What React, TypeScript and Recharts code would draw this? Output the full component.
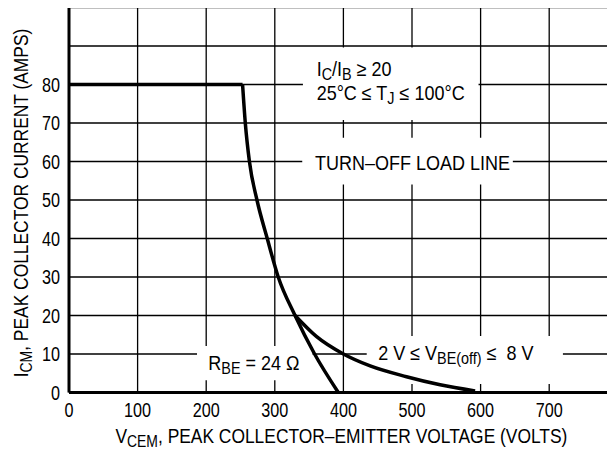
import type { ReactNode } from 'react';
import { LineChart, Line, XAxis, YAxis, CartesianGrid, ReferenceArea } from 'recharts';

// rated current plateau
const flatV = [0, 253];
const flatI = [80, 80];
// R_BE = 24 ohm load line
const rbeV = [253, 257, 263, 274, 289, 305, 329.5, 358, 392.6];
const rbeI = [80, 70, 60, 50, 40, 30, 20, 10, 0];
// 2 V <= VBE(off) <= 8 V load line
const vbeV = [329.5, 361, 400, 439, 492, 541, 592];
const vbeI = [20, 14.5, 10, 6.9, 4.1, 2, 0.4];

const xTicks = [0, 100, 200, 300, 400, 500, 600, 700, 800];
const yTicks = [0, 10, 20, 30, 40, 50, 60, 70, 80, 90, 100];

const toPoints = (xs: number[], ys: number[]) => xs.map((x, i) => ({ x, y: ys[i] }));

// no narrow font installed, so squeeze Liberation Sans horizontally
const FONT = "'Liberation Sans', Arial, sans-serif";

// segments: plain strings, or [text] for a subscript
type Seg = string | [string];
function Rich({ segs }: { segs: Seg[] }) {
  let low = false;
  return (
    <>
      {segs.map((s, i) => {
        const sub = Array.isArray(s);
        const dy = sub && !low ? 4 : !sub && low ? -4 : 0;
        low = sub;
        return (
          <tspan key={i} dy={dy} fontSize={sub ? 16 : 20}>
            {sub ? s[0] : s}
          </tspan>
        );
      })}
    </>
  );
}

function SqText(props: { x: number; y: number; sx: number; rotate?: boolean; anchor?: string; dy?: string; children: ReactNode }) {
  const rot = props.rotate ? ' rotate(-90)' : '';
  return (
    <text
      transform={`translate(${props.x}, ${props.y})${rot} scale(${props.sx}, 1)`}
      textAnchor={props.anchor ?? 'start'}
      dy={props.dy}
      fontFamily={FONT}
      fontSize={20}
      fill="#000"
    >
      {props.children}
    </text>
  );
}

function XTick(props: any) {
  const v = props.payload.value;
  if (v > 700) return null;
  return (
    <SqText x={props.x} y={props.y} sx={0.81} anchor="middle" dy="0.71em">
      {String(v)}
    </SqText>
  );
}

function YTick(props: any) {
  const v = props.payload.value;
  if (v > 80) return null;
  return (
    <SqText x={props.x} y={props.y} sx={0.81} anchor="end" dy="0.355em">
      {String(v)}
    </SqText>
  );
}

function xTitle(props: any) {
  const vb = props.viewBox;
  return (
    <SqText x={vb.x + vb.width / 2 - 2} y={vb.y + 50.5} sx={0.87} anchor="middle">
      <Rich segs={['V', ['CEM'], ', PEAK COLLECTOR–EMITTER VOLTAGE (VOLTS)']} />
    </SqText>
  );
}

function yTitle(props: any) {
  const vb = props.viewBox;
  return (
    <SqText x={28} y={vb.y + vb.height / 2 + 3} sx={0.87} rotate anchor="middle">
      <Rich segs={['I', ['CM'], ', PEAK COLLECTOR CURRENT (AMPS)']} />
    </SqText>
  );
}

const note = (dx: number, dy: number, segs: Seg[]) => (props: any) => {
  const vb = props.viewBox;
  return (
    <SqText x={vb.x + dx} y={vb.y + dy} sx={0.9}>
      <Rich segs={segs} />
    </SqText>
  );
};

function condNote(props: any) {
  const vb = props.viewBox;
  const x = vb.x + 13.7;
  return (
    <g>
      <SqText x={x} y={vb.y + 28.8} sx={0.9}>
        <Rich segs={['I', ['C'], '/I', ['B'], ' ≥ 20']} />
      </SqText>
      <SqText x={x} y={vb.y + 52.8} sx={0.9}>
        <Rich segs={['25°C ≤ T', ['J'], ' ≤ 100°C']} />
      </SqText>
    </g>
  );
}

const boxStyle = { fill: '#fff', fillOpacity: 1, stroke: 'none' };

export default function App() {
  return (
    <div style={{ margin: -8, width: 615, height: 459, overflow: 'hidden', background: '#fff' }}>
      <LineChart width={640} height={459} margin={{ top: 7.5, right: 22.2, bottom: 0, left: 0 }}>
        <CartesianGrid stroke="#000" strokeWidth={1.3} />
        <XAxis
          type="number"
          dataKey="x"
          domain={[0, 800]}
          ticks={xTicks}
          allowDataOverflow
          height={66.5}
          tickLine={false}
          tickSize={0}
          tickMargin={10.5}
          axisLine={{ stroke: '#000', strokeWidth: 3 }}
          tick={XTick}
          label={xTitle}
        />
        <YAxis
          type="number"
          domain={[0, 100]}
          ticks={yTicks}
          allowDataOverflow
          width={69}
          tickLine={false}
          tickSize={0}
          tickMargin={9}
          axisLine={{ stroke: '#000', strokeWidth: 3 }}
          tick={YTick}
          label={yTitle}
        />
        <ReferenceArea x1={341} x2={597} y1={70.8} y2={89.6} {...boxStyle} label={condNote} />
        <ReferenceArea x1={340} x2={647} y1={54} y2={66.2} {...boxStyle} label={note(12.8, 32.4, ['TURN–OFF LOAD LINE'])} />
        <ReferenceArea x1={186.6} x2={355} y1={3.2} y2={12.1} {...boxStyle} label={note(11.3, 24, ['R', ['BE'], ' = 24 Ω'])} />
        <ReferenceArea
          x1={434}
          x2={720}
          y1={2.2}
          y2={14.7}
          {...boxStyle}
          label={note(11.5, 24.1, ['2 V ≤ V', ['BE(off)'], ' ≤\u00a0 8 V'])}
        />
        <Line data={toPoints(flatV, flatI)} dataKey="y" type="linear" stroke="#000" strokeWidth={3.5} dot={false} isAnimationActive={false} />
        <Line data={toPoints(rbeV, rbeI)} dataKey="y" type="monotone" stroke="#000" strokeWidth={3.5} dot={false} isAnimationActive={false} />
        <Line data={toPoints(vbeV, vbeI)} dataKey="y" type="monotone" stroke="#000" strokeWidth={3.5} dot={false} isAnimationActive={false} />
      </LineChart>
    </div>
  );
}
